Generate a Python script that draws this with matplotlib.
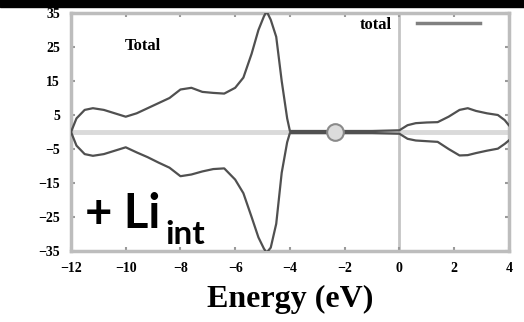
import matplotlib.pyplot as plt
from matplotlib.patches import Rectangle

# DOS (states/eV), spin up and spin down
energy_up = [-12, -11.8, -11.5, -11.2, -10.8, -10.4, -10, -9.6, -9.2, -8.8, -8.4, -8, -7.6,
             -7.2, -6.8, -6.4, -6.0, -5.7, -5.4, -5.15, -4.95, -4.85, -4.7, -4.5, -4.3, -4.1,
             -4.0, -3.0, -2.0, -1.0, 0.0, 0.3, 0.6, 1.0, 1.4, 1.8, 2.2, 2.5, 2.8, 3.2, 3.6,
             3.85, 4.0]
dos_up = [0, 4, 6.5, 7, 6.5, 5.5, 4.5, 5.5, 7, 8.5, 10, 12.5, 13, 11.8, 11.5, 11.3, 13, 16,
          23, 30, 34, 35.5, 33, 28, 15, 4, 0.3, 0.3, 0.3, 0.3, 0.5, 2, 2.6, 2.8, 2.9, 4.5,
          6.5, 7, 6.2, 5.5, 5, 3.5, 2]
energy_dn = energy_up
dos_dn = [0, -4, -6.5, -7, -6.5, -5.5, -4.5, -6, -7.4, -9, -10.5, -13, -12.5, -11.6, -10.9,
          -10.7, -14, -18, -25, -31, -34.3, -35.5, -34, -27, -12, -3, -0.3, -0.3, -0.3,
          -0.3, -0.5, -2, -2.5, -2.7, -2.9, -5, -6.9, -6.8, -6.2, -5.5, -4.9, -3.5, -2.5]

xticks = [-12, -10, -8, -6, -4, -2, 0, 2, 4]
yticks = [-35, -25, -15, -5, 5, 15, 25, 35]

fig = plt.figure(figsize=(5.24, 3.22), dpi=100)
fig.patches.append(Rectangle((0, 0.978), 1, 0.03, transform=fig.transFigure,
                             color="black", zorder=0))
ax = fig.add_axes([0.1355, 0.2205, 0.8355, 0.7391])

ax.axhline(0, color="#dadada", lw=3.5, zorder=1)
ax.axvline(0, color="#c4c4c4", lw=2, zorder=1)

ax.plot(energy_up, dos_up, color="#505050", lw=1.6, zorder=3, label="total")
ax.plot(energy_dn, dos_dn, color="#505050", lw=1.6, zorder=3)
ax.plot([-2.34], [0], marker="o", ms=12, mfc="#dcdcdc", mec="#8a8a8a", mew=1.5, zorder=4)

ax.set_xlim(-12, 4)
ax.set_ylim(-35, 35)
ax.set_xticks(xticks)
ax.set_yticks(yticks)
ax.tick_params(direction="in", top=True, right=True, length=3, width=1.5,
               color="#999999", labelsize=10, pad=8)
for lab in ax.get_xticklabels() + ax.get_yticklabels():
    lab.set_fontfamily("Liberation Serif")
    lab.set_fontweight("bold")
for s in ax.spines.values():
    s.set_color("#bdbdbd")
    s.set_linewidth(2.5)

ax.set_xlabel("Energy (eV)", fontfamily="Liberation Serif", fontweight="bold",
              fontsize=23, labelpad=7)

ax.text(-10.05, 24, "Total", fontfamily="Liberation Serif", fontweight="bold", fontsize=12)
leg = ax.legend(loc="upper right", bbox_to_anchor=(0.934, 0.985), frameon=False,
                markerfirst=False, handlelength=3.8, handletextpad=1.5,
                borderaxespad=0, borderpad=0,
                prop={"family": "Liberation Serif", "weight": "bold", "size": 12})
for h in leg.get_lines():
    h.set_color("#808080")
    h.set_linewidth(2.5)

ax.text(-11.49, -28.1, "+ Li", fontfamily="Lato", fontweight="bold", fontsize=34)
ax.text(-8.55, -32.8, "int", fontfamily="Lato", fontweight="bold", fontsize=24)

fig.savefig("out.png", dpi=100, facecolor="white")
